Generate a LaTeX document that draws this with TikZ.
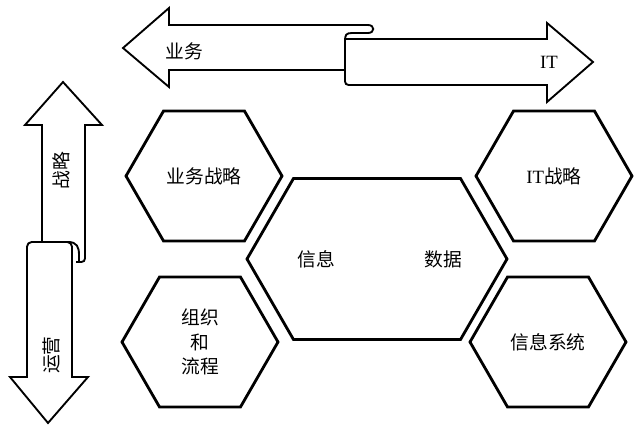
\documentclass[tikz,border=0pt]{standalone}
\usepackage{fontspec}
\setmainfont{Liberation Serif}
\newfontfamily\cjk{Noto Sans CJK SC}
\usetikzlibrary{shapes.symbols}

\begin{document}
\begin{tikzpicture}[
  x=0.03cm, y=-0.03cm,
  font=\cjk\fontsize{16}{21}\selectfont,
  hexa/.style={shape=signal, signal to=west and east, signal pointer angle=120,
    draw, line width=2.4pt, inner sep=0pt, align=center,
    minimum width=4.68cm, minimum height=3.9cm},
  hexagrande/.style={hexa, minimum width=7.8cm, minimum height=4.83cm},
  flechon/.style={line width=1.6pt, line join=miter},
  rotulo/.style={inner sep=0pt},
]
\useasboundingbox (0,0) rectangle (640,428);

% --- Hexagonos ---
\node[hexa] (yewuzl) at (204,176) {业务战略};
\node[hexa] (itzl) at (554,176) {{\rmfamily IT}战略};
\node[hexa] (zuzhi) at (200,342) {组织\\和\\流程};
\node[hexa] (xitong) at (548,342) {信息系统};
\node[hexagrande] (centro) at (377,259) {};
\node[rotulo] (xinxi) at (316,259) {信息};
\node[rotulo] (shuju) at (443,259) {数据};

% --- Flecha horizontal: negocio / IT ---
\draw[flechon] (345,70) -- (169,70) -- (169,87) -- (123,48) -- (169,8) -- (169,25) -- (368,25)
  .. controls (375,25) and (375,33) .. (368,33) -- (352,33) .. controls (346,33) and (345,35) .. (345,41);
\draw[flechon, rounded corners=3pt] (345,40) -- (345,85) -- (400,85);
\draw[flechon] (398,85) -- (547,85) -- (547,102) -- (593,62) -- (547,23) -- (547,39) -- (345,39);
\node[rotulo] (yewu) at (184,51) {业务};
\node[rotulo] (it) at (549,62) {\rmfamily IT};

% --- Flecha vertical: estrategia / operacion ---
\draw[flechon] (42,242) -- (42,125) -- (25,125) -- (63,82) -- (102,125) -- (85,125) -- (85,250);
\draw[flechon, rounded corners=3pt] (85,240) -- (85,262) -- (76,262);
\draw[flechon, rounded corners=4pt] (27,300) -- (27,242) -- (72,242) -- (72,300);
\draw[flechon] (68,242) .. controls (77,242) and (79,247) .. (79,255) -- (79,262);
\draw[flechon] (27,298) -- (27,377) -- (10,377) -- (48,423) -- (88,377) -- (72,377) -- (72,298);
\node[rotulo, rotate=90] (zhanlue) at (61,171) {战略};
\node[rotulo, rotate=90] (yunying) at (51,355) {运营};

\end{tikzpicture}
\end{document}
